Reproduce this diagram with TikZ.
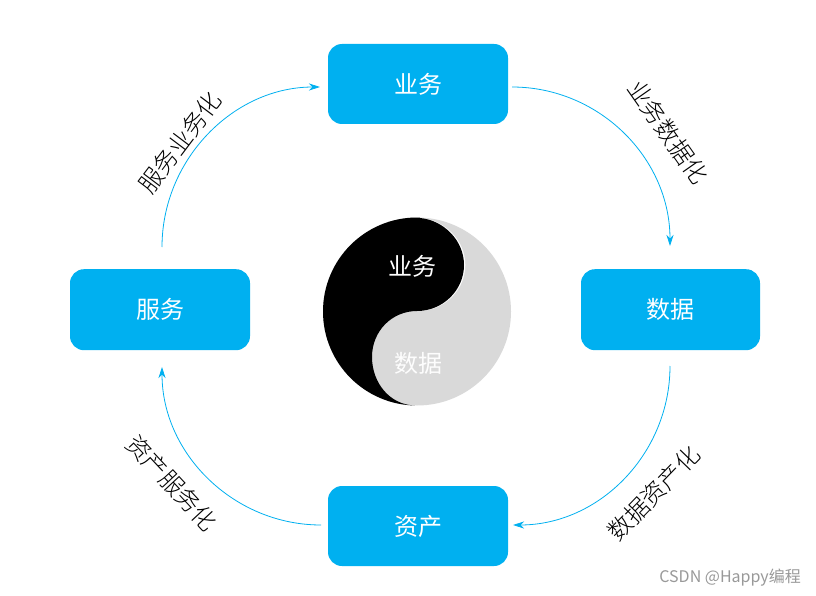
\documentclass[tikz,border=0pt]{standalone}
\usepackage{fontspec}
\setmainfont{Noto Sans CJK SC}
\newfontfamily\lightcjk{Noto Sans CJK SC}[UprightFont=* Light]
\usetikzlibrary{arrows.meta}
\definecolor{boxblue}{RGB}{0,176,240}
\definecolor{yygray}{RGB}{217,217,217}
\tikzset{
  x=1pt,y=-1pt,
  box/.style={fill=boxblue,rounded corners=14pt,minimum width=180pt,minimum height=80pt,inner sep=0pt,text=white,font=\fontsize{24}{24}\selectfont},
  flow/.style={draw=boxblue,line width=0.8pt,-{Stealth[length=11pt,width=7pt,inset=3.5pt]}},
  slant/.style={font=\lightcjk\fontsize{24}{24}\selectfont,text=black,inner sep=0pt},
  yytext/.style={font=\fontsize{24}{24}\selectfont,text=white,inner sep=0pt},
}
\begin{document}
\begin{tikzpicture}
\useasboundingbox (0,0) rectangle (816,596);
\fill[white] (0,0) rectangle (816,596);
\node[box] (biz) at (418,84) {业务};
\node[box,minimum height=81pt] (svc) at (160,309.7) {服务};
\node[box,minimum width=179pt,minimum height=81pt] (data) at (670.5,309.7) {数据};
\node[box] (asset) at (418,526) {资产};
\coordinate (bizout) at (512,87);
\coordinate (datain) at (670,246);
\coordinate (dataout) at (670,366);
\coordinate (assetin) at (513,525);
\coordinate (assetout) at (321,525);
\coordinate (svcin) at (162,367);
\coordinate (svcout) at (162,247);
\coordinate (bizin) at (320,87);
\draw[flow] (bizout) .. controls +(87,0) and (670,158) .. (datain);
\draw[flow] (dataout) .. controls +(0,87) and +(87,0) .. (assetin);
\draw[flow] (assetout) .. controls +(-87,0) and +(0,87) .. (svcin);
\draw[flow] (svcout) .. controls +(0,-87) and +(-87,0) .. (bizin);
\node[slant,rotate=53] (l1) at (180,142.5) {服务业务化};
\node[slant,rotate=-55] (l2) at (668,132) {业务数据化};
\node[slant,rotate=46] (l3) at (653.5,493.5) {数据资产化};
\node[slant,rotate=-47] (l4) at (172,483) {资产服务化};
% yin-yang
\fill[yygray] (417,311.5) circle[radius=94];
\fill[white,xshift=1.3pt] (420,218) .. controls (443,220) and (464,240) .. (464,265)
  .. controls (464,290) and (443,311) .. (417,311) -- cycle;
\begin{scope}
  \clip (417,311.5) circle[radius=94];
  \fill[black] (420,218) .. controls (443,220) and (464,240) .. (464,265)
    .. controls (464,290) and (443,311) .. (417,311)
    .. controls (392,311) and (372,331) .. (372,357)
    .. controls (372,383) and (390,405) .. (415,405.5)
    -- (300,405.5) -- (300,217) -- (420,217) -- cycle;
\end{scope}
\node[yytext] (yy1) at (412,266) {业务};
\node[yytext,text=white!95!yygray] (yy2) at (418,363) {数据};
\node[inner sep=0pt,text=black!40,font=\fontsize{16}{16}\selectfont,anchor=east] (wm) at (801,578) {CSDN @Happy编程};
\end{tikzpicture}
\end{document}
